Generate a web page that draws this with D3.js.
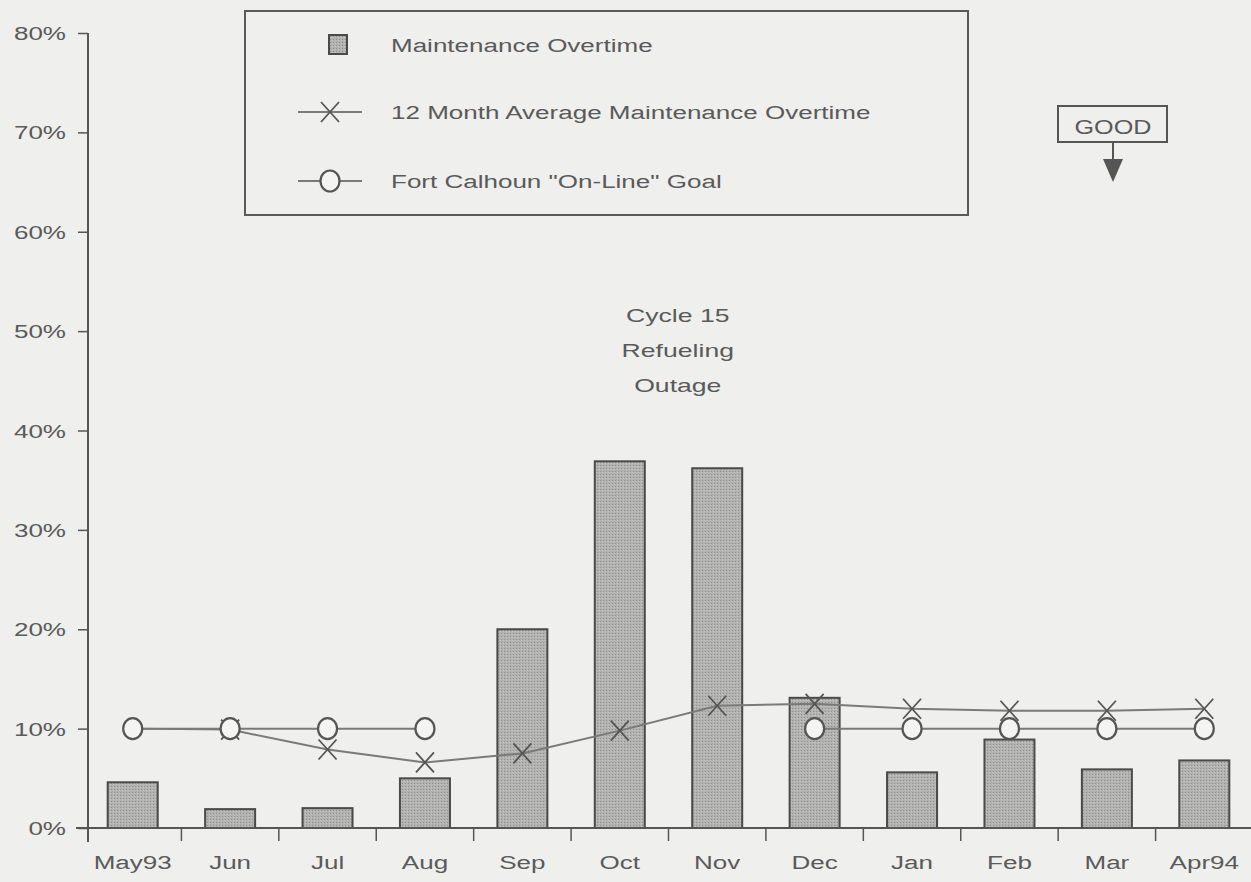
<!DOCTYPE html>
<html><head><meta charset="utf-8">
<script src="https://cdn.jsdelivr.net/npm/d3@7"></script>
<style>
html,body{margin:0;padding:0;background:#efefed;}
svg{display:block;}
text{font-family:"Liberation Sans",Arial,Helvetica,sans-serif;fill:#5a5a5a;}
</style></head>
<body>
<script>
const months = ["May93","Jun","Jul","Aug","Sep","Oct","Nov","Dec","Jan","Feb","Mar","Apr94"];
const overtime = [4.6, 1.9, 2.0, 5.0, 20.0, 36.9, 36.2, 13.1, 5.6, 8.9, 5.9, 6.8];
const avg12 = [10.0, 9.9, 7.9, 6.6, 7.5, 9.8, 12.3, 12.5, 12.0, 11.8, 11.8, 12.0];
const goal = [10, 10, 10, 10, null, null, null, 10, 10, 10, 10, 10];
const yTicks = [0,10,20,30,40,50,60,70,80];
const legendLabels = ["Maintenance Overtime","12 Month Average Maintenance Overtime","Fort Calhoun \"On-Line\" Goal"];
const noteLines = ["Cycle 15","Refueling","Outage"];

const W=1251,H=882, SX=1.37, FS=19;
const svg=d3.select("body").append("svg").attr("width",W).attr("height",H);
const defs=svg.append("defs");
const pat=defs.append("pattern").attr("id","dots").attr("width",3).attr("height",3).attr("patternUnits","userSpaceOnUse");
pat.append("rect").attr("width",3).attr("height",3).attr("fill","#b2b2b0");
pat.append("rect").attr("width",1).attr("height",1).attr("fill","#8e8e8c");
pat.append("rect").attr("x",2).attr("y",1).attr("width",1).attr("height",1).attr("fill","#c6c6c4");

const xb=d3.scaleBand().domain(months).range([84,1253]);
const y=d3.scaleLinear().domain([0,80]).range([828,33]);
const cx=m=>xb(m)+xb.bandwidth()/2;
const ink="#555";

// stretched text helper (the scan is wider than it is tall)
function sText(g,x0,y0,str,size,anchor,sx){
  return g.append("text").attr("transform",`translate(${x0},${y0}) scale(${sx||SX},1)`)
   .attr("font-size",size).attr("text-anchor",anchor||"start").text(str);
}

// bars
svg.append("g").selectAll("rect").data(months).join("rect")
 .attr("x",m=>cx(m)-25).attr("width",50)
 .attr("y",(m,i)=>y(overtime[i])).attr("height",(m,i)=>y(0)-y(overtime[i]))
 .attr("fill","url(#dots)").attr("stroke","#4a4a4a").attr("stroke-width",2);

// y axis
const yAxis=d3.axisLeft(y).tickValues(yTicks).tickFormat("").tickSize(10);
const gy=svg.append("g").attr("transform","translate(88,0)").call(yAxis);
gy.select(".domain").attr("stroke",ink).attr("stroke-width",2).attr("d","M0,33V842");
gy.selectAll(".tick line").attr("stroke",ink).attr("stroke-width",1.5);
yTicks.forEach(v=>sText(svg,66,y(v)+7,v+"%",FS,"end"));

// x axis
const gx=svg.append("g").attr("transform","translate(0,828)");
gx.append("line").attr("x1",76).attr("x2",1251).attr("stroke",ink).attr("stroke-width",2);
gx.selectAll("line.t").data(months.slice(1)).join("line").attr("class","t")
 .attr("x1",m=>xb(m)).attr("x2",m=>xb(m)).attr("y1",0).attr("y2",13).attr("stroke",ink).attr("stroke-width",1.5);
months.forEach(m=>sText(gx,cx(m),41,m,FS,"middle"));

// lines
const line=d3.line().defined(d=>d.v!=null).x(d=>cx(d.m)).y(d=>y(d.v));
const avgData=months.map((m,i)=>({m,v:avg12[i]}));
const goalData=months.map((m,i)=>({m,v:goal[i]}));
svg.append("path").datum(avgData).attr("d",line).attr("fill","none").attr("stroke","#7a7a7a").attr("stroke-width",2);
svg.append("path").datum(goalData).attr("d",line).attr("fill","none").attr("stroke","#7a7a7a").attr("stroke-width",2);

function xMark(g,px,py){
  g.append("path").attr("d",`M${px-9},${py-10}L${px+9},${py+10}M${px-9},${py+10}L${px+9},${py-10}`)
   .attr("stroke","#555").attr("stroke-width",1.8).attr("fill","none");
}
const gm=svg.append("g");
avgData.forEach((d,i)=>{ if(i>0) xMark(gm,cx(d.m),y(d.v)); });
svg.append("g").selectAll("ellipse").data(goalData.filter(d=>d.v!=null)).join("ellipse")
 .attr("cx",d=>cx(d.m)).attr("cy",d=>y(d.v)).attr("rx",9.5).attr("ry",10.5)
 .attr("fill","#f4f4f2").attr("stroke","#555").attr("stroke-width",2.2);

// legend
const lg=svg.append("g");
lg.append("rect").attr("x",245).attr("y",11).attr("width",723).attr("height",204)
 .attr("fill","none").attr("stroke","#5a5a5a").attr("stroke-width",2);
lg.append("rect").attr("x",329).attr("y",35).attr("width",18).attr("height",19)
 .attr("fill","url(#dots)").attr("stroke","#4a4a4a").attr("stroke-width",2);
lg.append("line").attr("x1",298).attr("x2",362).attr("y1",112).attr("y2",112).attr("stroke","#7a7a7a").attr("stroke-width",2);
xMark(lg,330,112);
lg.append("line").attr("x1",298).attr("x2",362).attr("y1",181).attr("y2",181).attr("stroke","#7a7a7a").attr("stroke-width",2);
lg.append("ellipse").attr("cx",330).attr("cy",181).attr("rx",9.5).attr("ry",10.5).attr("fill","#f4f4f2").attr("stroke","#555").attr("stroke-width",2.2);
legendLabels.forEach((t,i)=>sText(lg,391,[52,119,188][i],t,FS));

// GOOD
const gg=svg.append("g");
gg.append("rect").attr("x",1058).attr("y",106).attr("width",109).attr("height",36)
 .attr("fill","none").attr("stroke","#555").attr("stroke-width",2);
sText(gg,1113,134,"GOOD",20,"middle",1.26);
gg.append("line").attr("x1",1113).attr("x2",1113).attr("y1",142).attr("y2",162).attr("stroke","#555").attr("stroke-width",2);
gg.append("path").attr("d","M1103,159L1123,159L1113,182Z").attr("fill","#555");

// note
noteLines.forEach((t,i)=>sText(svg,cx("Oct")+58,322+i*35,t,FS,"middle",1.4));
</script>
</body></html>
